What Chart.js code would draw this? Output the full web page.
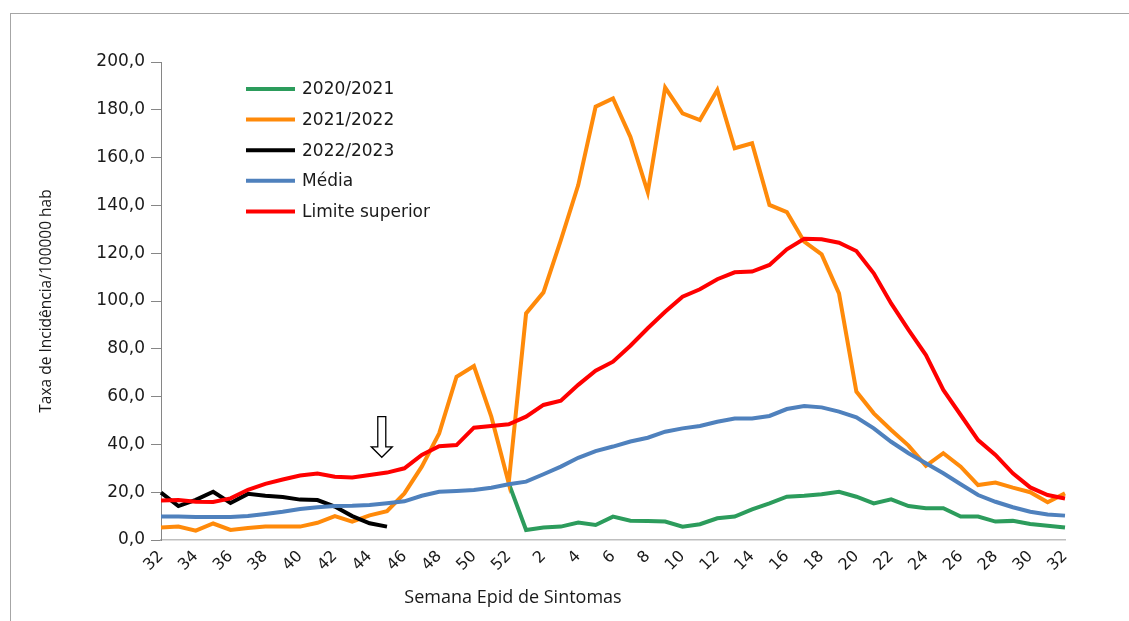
<!DOCTYPE html>
<html>
<head>
<meta charset="utf-8">
<script src="https://cdn.jsdelivr.net/npm/chart.js@4.4.0/dist/chart.umd.min.js"></script>
<style>
  html, body { margin: 0; padding: 0; background: #ffffff; }
  #wrap { width: 1129px; height: 621px; position: relative; }
</style>
</head>
<body>
<div id="wrap"><canvas id="c" width="1129" height="621"></canvas></div>
<script>
// Semanas epidemiológicas (eixo X)
const semanas = ['32','33','34','35','36','37','38','39','40','41','42','43','44','45','46','47','48','49','50','51','52',
  '1','2','3','4','5','6','7','8','9','10','11','12','13','14','15','16','17','18','19','20',
  '21','22','23','24','25','26','27','28','29','30','31','32'];

const serie2020_2021 = [null,null,null,null,null,null,null,null,null,null,null,null,null,null,null,null,null,null,null,null,
  23.8, 4.2, 5.2, 5.6, 7.3, 6.3, 9.8, 8.1, 8.0, 7.7, 5.6, 6.6, 9.1, 9.8, 12.8, 15.3, 18.1, 18.5, 19.1, 20.2,
  18.1, 15.3, 17.0, 14.2, 13.3, 13.3, 9.8, 9.8, 7.7, 8.0, 6.7, 6.0, 5.2];

const serie2021_2022 = [5.2, 5.6, 3.9, 6.9, 4.2, 5.0, 5.6, 5.6, 5.6, 7.2, 10.0, 7.7, 10.3, 12.1, 19.5, 30.7, 44.6, 68.3, 72.8, 51.6,
  23.8, 94.8, 103.6, 125.5, 148.5, 181.3, 184.8, 168.7, 145.5, 189.3, 178.5, 175.7, 188.3, 163.9, 166.0, 140.2, 137.2, 124.8, 119.5, 103.2,
  62.1, 53.0, 46.0, 39.5, 31.0, 36.3, 30.7, 23.0, 24.0, 21.9, 20.0, 15.8, 19.5];

const serie2022_2023 = [19.8, 14.2, 16.8, 20.2, 15.5, 19.3, 18.5, 18.0, 16.9, 16.7, 14.0, 10.0, 7.0, 5.6];

const media = [9.8, 9.8, 9.6, 9.6, 9.6, 10.0, 10.9, 11.8, 13.0, 13.7, 14.2, 14.3, 14.6, 15.4, 16.2, 18.5, 20.2, 20.5, 20.9, 21.9,
  23.3, 24.4, 27.5, 30.7, 34.4, 37.2, 39.1, 41.2, 42.8, 45.3, 46.7, 47.7, 49.5, 50.8, 50.8, 51.9, 54.8, 56.1, 55.5, 53.7,
  51.3, 46.7, 41.1, 36.3, 32.1, 27.9, 23.3, 18.8, 16.0, 13.7, 11.8, 10.7, 10.2];

const limiteSuperior = [16.5, 16.7, 16.0, 15.9, 17.4, 21.0, 23.5, 25.3, 27.0, 27.8, 26.5, 26.2, 27.2, 28.2, 30.0, 35.6, 39.2, 39.7, 47.0, 47.7,
  48.4, 51.6, 56.5, 58.3, 64.9, 70.8, 74.6, 81.3, 88.6, 95.5, 101.8, 104.9, 109.1, 112.0, 112.3, 115.1, 121.6, 126.0, 125.8, 124.4,
  120.9, 111.6, 99.0, 87.9, 77.4, 62.8, 52.3, 41.8, 35.6, 27.9, 22.0, 18.8, 17.4];

const rotulosSeries = ['2020/2021', '2021/2022', '2022/2023', 'Média', 'Limite superior'];
const coresSeries = ['#2c9c5c', '#ff8a0a', '#000000', '#4f81bd', '#ff0000'];
const tituloEixoX = 'Semana Epid de Sintomas';
const tituloEixoY = 'Taxa de Incidência/100000 hab';

const valores = [serie2020_2021, serie2021_2022, serie2022_2023, media, limiteSuperior];

const extras = {
  id: 'extras',
  beforeDraw(chart) {
    const ctx = chart.ctx;
    ctx.save();
    ctx.fillStyle = '#ffffff';
    ctx.fillRect(0, 0, chart.width, chart.height);
    ctx.strokeStyle = '#a6a6a6';
    ctx.lineWidth = 1;
    ctx.strokeRect(10.5, 13.5, chart.width + 10, chart.height + 10);
    ctx.restore();
  },
  afterDraw(chart) {
    const ctx = chart.ctx;
    const xs = chart.scales.x, ys = chart.scales.y;
    ctx.save();
    // legenda
    ctx.font = '17px "DejaVu Sans"';
    ctx.textBaseline = 'middle';
    ctx.textAlign = 'left';
    chart.data.datasets.forEach((ds, i) => {
      const y = 89 + i * 30.6;
      ctx.strokeStyle = ds.borderColor;
      ctx.lineWidth = 4;
      ctx.lineCap = 'butt';
      ctx.beginPath();
      ctx.moveTo(246, y);
      ctx.lineTo(295, y);
      ctx.stroke();
      ctx.fillStyle = '#1a1a1a';
      ctx.fillText(ds.label, 302, y + 1);
    });
    // título eixo X
    ctx.font = '18px "Open Sans"';
    ctx.fillStyle = '#1a1a1a';
    ctx.textAlign = 'center';
    ctx.textBaseline = 'middle';
    ctx.fillText(tituloEixoX, 513, 598);
    // título eixo Y
    ctx.save();
    ctx.translate(47, 301);
    ctx.rotate(-Math.PI / 2);
    ctx.font = '15.5px "Open Sans"';
    ctx.fillText(tituloEixoY, 0, 0);
    ctx.restore();
    // seta (semana 45)
    const cx = xs.getPixelForValue(12.7);
    const yTop = ys.getPixelForValue(51.6);
    const yBase = ys.getPixelForValue(39.0);
    const yTip = ys.getPixelForValue(34.6);
    ctx.beginPath();
    ctx.moveTo(cx - 4, yTop);
    ctx.lineTo(cx + 4, yTop);
    ctx.lineTo(cx + 4, yBase);
    ctx.lineTo(cx + 10.5, yBase);
    ctx.lineTo(cx, yTip);
    ctx.lineTo(cx - 10.5, yBase);
    ctx.lineTo(cx - 4, yBase);
    ctx.closePath();
    ctx.fillStyle = '#ffffff';
    ctx.fill();
    ctx.strokeStyle = '#000000';
    ctx.lineWidth = 1.3;
    ctx.lineJoin = 'miter';
    ctx.stroke();
    ctx.restore();
  }
};

new Chart(document.getElementById('c'), {
  type: 'line',
  data: {
    labels: semanas,
    datasets: rotulosSeries.map((rotulo, i) => ({
      label: rotulo,
      data: valores[i],
      borderColor: coresSeries[i],
      backgroundColor: coresSeries[i],
      borderWidth: 4,
      pointRadius: 0,
      pointHoverRadius: 0,
      tension: 0,
      fill: false,
      spanGaps: false,
      order: 4 - i
    }))
  },
  options: {
    responsive: false,
    animation: false,
    devicePixelRatio: 1,
    layout: { padding: { top: 62, right: 64, left: 0, bottom: 0 } },
    plugins: {
      legend: { display: false },
      tooltip: { enabled: false },
      title: { display: false }
    },
    scales: {
      x: {
        type: 'category',
        offset: false,
        afterFit(scale) { scale.height = 81; },
        grid: { display: true, drawOnChartArea: false, drawTicks: false },
        border: { display: true, color: '#bfbfbf', width: 1.5 },
        ticks: {
          autoSkip: false,
          maxRotation: 45,
          minRotation: 45,
          padding: 7,
          color: '#1a1a1a',
          font: { family: 'DejaVu Sans', size: 16 },
          callback: function (value, index) { return index % 2 === 0 ? semanas[index] : ''; }
        }
      },
      y: {
        min: 0,
        max: 200,
        afterFit(scale) { scale.width = 161; },
        grid: { drawOnChartArea: false, drawTicks: true, tickLength: 10, tickColor: '#868686', tickWidth: 1 },
        border: { display: true, color: '#868686', width: 1 },
        ticks: {
          stepSize: 20,
          padding: 6,
          color: '#1a1a1a',
          font: { family: 'DejaVu Sans', size: 17 },
          callback: function (v) { return v.toFixed(1).replace('.', ','); }
        }
      }
    }
  },
  plugins: [extras]
});
</script>
</body>
</html>
